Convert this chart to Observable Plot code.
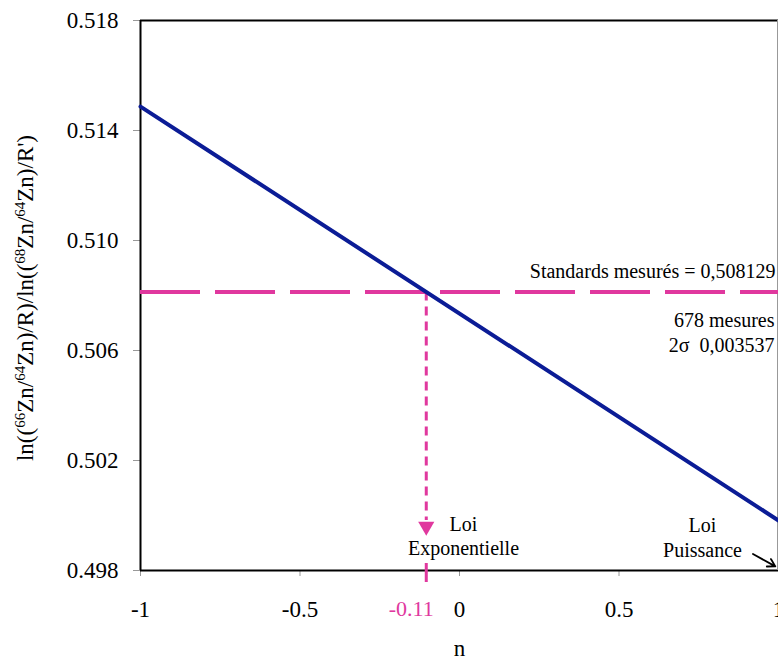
<!DOCTYPE html>
<html><head><meta charset="utf-8">
<script src="https://cdn.jsdelivr.net/npm/d3@7"></script>
<script src="https://cdn.jsdelivr.net/npm/@observablehq/plot@0.6"></script>
<style>body{margin:0;background:#fff} svg{display:block}</style>
</head><body><div id="chart"></div>
<script>
// ---- data ----
const nValues = [-1, 1];
const ratioValues = [0.51487, 0.49982];
const standardValue = 0.508129;
const nExpLabel = "-0.11";
const xTicks = [-1, -0.5, 0, 0.5, 1];
const yTicks = [0.498, 0.502, 0.506, 0.510, 0.514, 0.518];
const xDomain = [-1, 1];
const yDomain = [0.498, 0.518];
const standardLabel = "Standards mesurés = 0,508129";
const statsLines = ["678 mesures", "2σ\u00a0\u00a00,003537"];
const expLabel = ["Loi", "Exponentielle"];
const powLabel = ["Loi", "Puissance"];
const powArrow = [{x1: 0.92, y1: 0.4986, x2: 0.99, y2: 0.49815}];
const xLabel = "n";

// ---- styles ----
const pink = "#e0389e";
const blue = "#0b1c96";
const font = "'Liberation Serif', 'Times New Roman', serif";

const lineData = nValues.map((n, i) => ({n, r: ratioValues[i]}));
const nCross = nValues[0] + (standardValue - ratioValues[0]) / (ratioValues[1] - ratioValues[0]) * (nValues[1] - nValues[0]);

const chart = Plot.plot({
  width: 778,
  height: 660,
  marginLeft: 140,
  marginRight: 0,
  marginTop: 20,
  marginBottom: 90,
  style: {fontFamily: font, fontSize: "23px", color: "black", background: "white"},
  x: {domain: xDomain},
  y: {domain: yDomain},
  marks: [
    Plot.axisY({ticks: yTicks, tickFormat: d3.format(".3f"), tickSize: 7, tickPadding: 15, stroke: "#999", fill: "black", fontSize: 23, label: null}),
    Plot.axisX({ticks: xTicks, tickFormat: d => String(d), tickSize: 6, tickPadding: 24, stroke: "#999", fill: "black", fontSize: 23, label: null}),
    Plot.ruleY([yDomain[0], yDomain[1]], {stroke: "black", strokeWidth: 2}),
    Plot.ruleX([xDomain[0]], {stroke: "black", strokeWidth: 2}),
    Plot.ruleX([xDomain[1]], {stroke: "#999", strokeWidth: 1, dx: -1}),
    Plot.ruleY([standardValue], {stroke: pink, strokeWidth: 4, strokeDasharray: "60,15"}),
    Plot.ruleX([nCross], {y1: standardValue, y2: yDomain[0], insetBottom: 50, stroke: pink, strokeWidth: 3, strokeDasharray: "9,6"}),
    Plot.dot([nCross], {x: d => d, y: () => yDomain[0], dy: -44, symbol: "triangle", rotate: 180, r: 6, fill: pink, stroke: null}),
    Plot.ruleX([nCross], {y1: yDomain[0], y2: yDomain[0], insetTop: -7, insetBottom: -12, stroke: pink, strokeWidth: 3}),
    Plot.line(lineData, {x: "n", y: "r", stroke: blue, strokeWidth: 4}),
    Plot.text([nExpLabel], {x: () => nCross, y: () => yDomain[0], text: d => d, fill: pink, fontSize: 22, dx: -15, dy: 45, lineAnchor: "bottom"}),
    Plot.text([standardLabel], {x: () => xDomain[1], y: () => standardValue, text: d => d, textAnchor: "end", dx: -3, dy: -14, lineAnchor: "bottom", fontSize: 20}),
    Plot.text([statsLines.join("\n")], {x: () => xDomain[1], y: () => standardValue, text: d => d, textAnchor: "end", dx: -4, dy: 60, lineAnchor: "bottom", lineHeight: 1.25, fontSize: 20}),
    Plot.text([expLabel.join("\n")], {x: () => 0, y: () => yDomain[0], text: d => d, dx: 4, dy: -16, lineAnchor: "bottom", lineHeight: 1.2, fontSize: 20}),
    Plot.text([powLabel.join("\n")], {x: () => xDomain[1], y: () => yDomain[0], text: d => d, dx: -76, dy: -14, lineAnchor: "bottom", lineHeight: 1.25, fontSize: 20}),
    Plot.arrow(powArrow, {x1: "x1", y1: "y1", x2: "x2", y2: "y2", stroke: "black", strokeWidth: 1.8, headLength: 9}),
    Plot.text([xLabel], {frameAnchor: "bottom", text: d => d, dy: 85, lineAnchor: "bottom", fontSize: 23})
  ]
});
document.getElementById("chart").appendChild(chart);

// y-axis title with superscripts
const svg = d3.select(chart);
const t = svg.append("text")
  .attr("transform", "translate(33,298) rotate(-90)")
  .attr("text-anchor", "middle")
  .attr("font-family", font)
  .attr("font-size", 23)
  .attr("fill", "black");
const parts = [["ln((", 0], ["66", 1], ["Zn/", 0], ["64", 1], ["Zn)/R)/ln((", 0], ["68", 1], ["Zn/", 0], ["64", 1], ["Zn)/R')", 0]];
let prevSup = false;
parts.forEach(([s, sup]) => {
  const ts = t.append("tspan").text(s);
  if (sup) { ts.attr("font-size", 15).attr("dy", prevSup ? 0 : -8); }
  else { ts.attr("dy", prevSup ? 8 : 0); }
  prevSup = !!sup;
});
</script>
</body></html>
